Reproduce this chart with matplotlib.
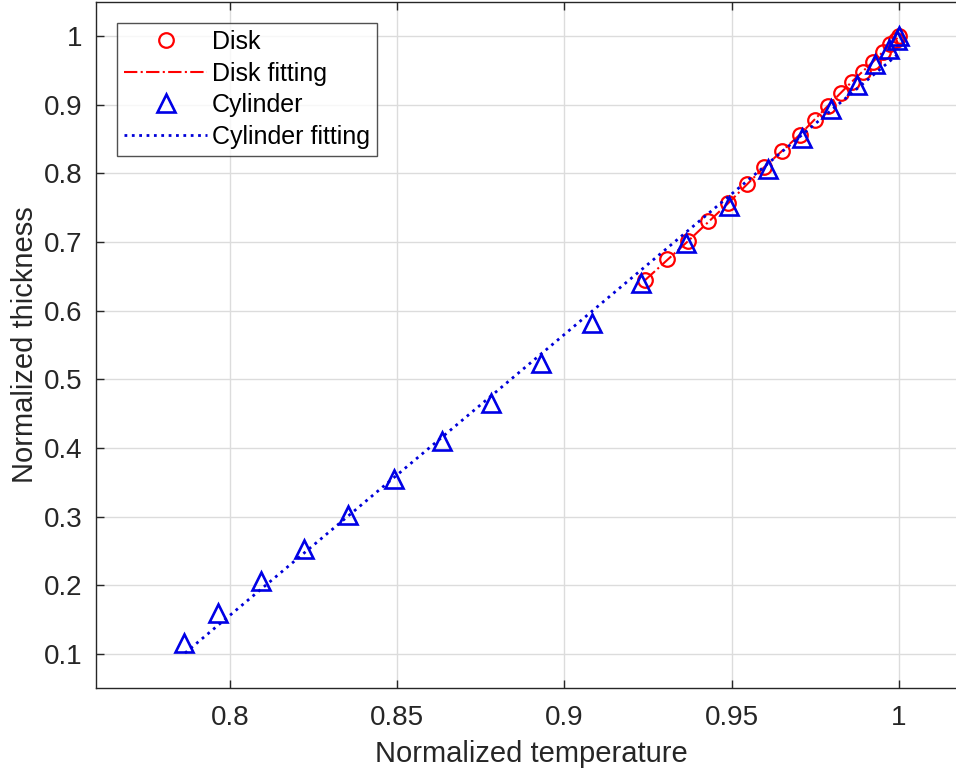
import matplotlib
matplotlib.use("Agg")
import matplotlib.pyplot as plt
from matplotlib.ticker import FuncFormatter

plt.rcParams['font.family'] = ['Liberation Sans', 'DejaVu Sans']

# normalized temperature / thickness for the disk samples
disk_x = [0.9241, 0.9306, 0.9369, 0.9429, 0.9489, 0.9546, 0.9596, 0.9650, 0.9704,
          0.9749, 0.9788, 0.9826, 0.9859, 0.9892, 0.9922, 0.9952, 0.9973, 0.9991, 1.0]
disk_y = [0.6445, 0.6750, 0.7012, 0.7302, 0.7564, 0.7840, 0.8087, 0.8334, 0.8567,
          0.8785, 0.8988, 0.9177, 0.9337, 0.9483, 0.9628, 0.9773, 0.9890, 0.9948, 1.0]

# cylinder samples
cyl_x = [0.7864, 0.7966, 0.8093, 0.8221, 0.8353, 0.8491, 0.8633, 0.8780, 0.8930, 0.9081,
         0.9229, 0.9363, 0.9492, 0.9608, 0.9710, 0.9797, 0.9874, 0.9928, 0.9970, 0.9994, 1.0]
cyl_y = [0.1158, 0.1594, 0.2055, 0.2531, 0.3015, 0.3548, 0.4105, 0.4661, 0.5243, 0.5824,
         0.6400, 0.6980, 0.7530, 0.8060, 0.8520, 0.8940, 0.9290, 0.9600, 0.9820, 0.9950, 1.0]

# fitted curves
disk_fit_x = [0.9241, 0.9369, 0.9489, 0.9596, 0.9704, 0.9788, 0.9859, 0.9922, 1.0]
disk_fit_y = [0.6445, 0.7012, 0.7564, 0.8087, 0.8567, 0.8988, 0.9337, 0.9628, 1.0]
cyl_fit_x = [0.7866, 1.0]
cyl_fit_y = [0.1010, 0.9750]

xticks = [0.8, 0.85, 0.9, 0.95, 1.0]
yticks = [0.1, 0.2, 0.3, 0.4, 0.5, 0.6, 0.7, 0.8, 0.9, 1.0]

txt = '#262626'
fig = plt.figure(figsize=(9.56, 7.77), dpi=100)
ax = fig.add_axes([0.1004, 0.1145, 0.910, 0.883])

ax.plot(disk_x, disk_y, 'o', ms=10.5, mfc='none', mec='red', mew=1.6, label='Disk')
ax.plot(disk_fit_x, disk_fit_y, '-.', color='red', lw=1.5, label='Disk fitting')
ax.plot(cyl_x, cyl_y, '^', ms=12.5, mfc='none', mec=(0, 0, 0.9), mew=1.9, label='Cylinder')
ax.plot(cyl_fit_x, cyl_fit_y, ':', color=(0, 0, 0.85), lw=2, label='Cylinder fitting')

ax.set_xlim(0.76, 1.02)
ax.set_ylim(0.05, 1.05)
ax.set_xticks(xticks)
ax.set_yticks(yticks)
fmt = FuncFormatter(lambda v, p: '%g' % round(v, 2))
ax.xaxis.set_major_formatter(fmt)
ax.yaxis.set_major_formatter(fmt)
ax.tick_params(direction='in', top=True, right=True, length=6, width=1,
               color=txt, labelcolor=txt, labelsize=20)
ax.tick_params(axis='x', pad=12)
ax.tick_params(axis='y', pad=10)
for s in ax.spines.values():
    s.set_color(txt)
    s.set_linewidth(1)
ax.grid(True, color='#dcdcdc', lw=1)
ax.set_axisbelow(True)

ax.set_xlabel('Normalized temperature', fontsize=21, color=txt, labelpad=7)
ax.set_ylabel('Normalized thickness', fontsize=21, color=txt, labelpad=3)

leg = ax.legend(loc='upper left', bbox_to_anchor=(0.024, 0.97), fontsize=18,
                frameon=True, fancybox=False, edgecolor=txt, handlelength=3.3,
                borderpad=0.3, labelspacing=0.3, handletextpad=0.2, borderaxespad=0)
leg.get_frame().set_linewidth(1)
for t in leg.get_texts():
    t.set_color('black')

fig.savefig('out.png', dpi=100)
